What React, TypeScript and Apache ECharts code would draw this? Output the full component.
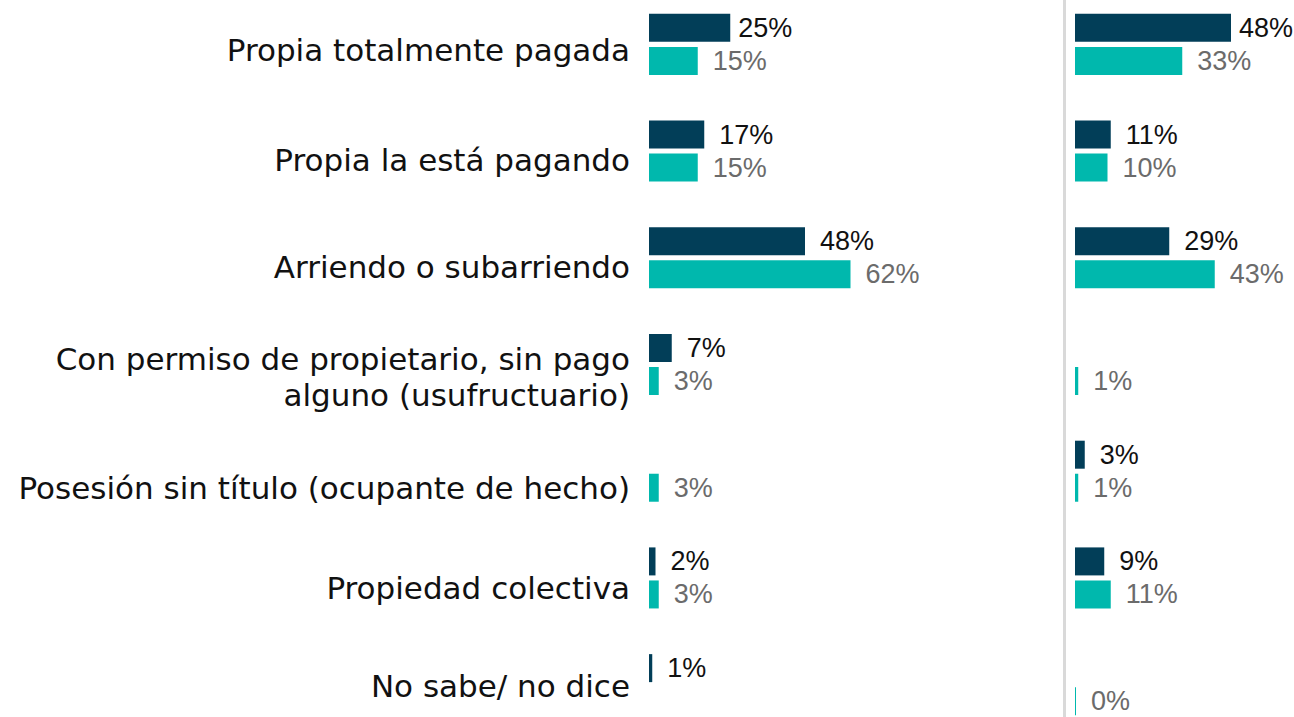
import React, { useEffect, useRef } from "react";
import * as echarts from "echarts";

const categories = [
  "Propia totalmente pagada",
  "Propia la está pagando",
  "Arriendo o subarriendo",
  "Con permiso de propietario, sin pago\nalguno (usufructuario)",
  "Posesión sin título (ocupante de hecho)",
  "Propiedad colectiva",
  "No sabe/ no dice",
];

const leftDark: (number | null)[] = [25, 17, 48, 7, null, 2, 1];
const leftTeal: (number | null)[] = [15, 15, 62, 3, 3, 3, null];
const rightDark: (number | null)[] = [48, 11, 29, null, 3, 9, null];
const rightTeal: (number | null)[] = [33, 10, 43, 1, 1, 11, 0];

// layout only: downward nudge (px) of each category label, as in the original slide
const labelNudge = [6, 8.5, 9.5, 12, 16.5, 10.5, 1];

const DARK = "#023e58";
const TEAL = "#00b8ad";
const FONT = "DejaVu Sans";
const NUM_FONT = "Liberation Sans";

function toData(values: (number | null)[], closeFirst: boolean) {
  return values.map((v, i) =>
    v === null
      ? "-"
      : closeFirst && i === 0
      ? { value: v, label: { distance: 8 } }
      : v
  );
}

export default function App() {
  const ref = useRef<HTMLDivElement>(null);
  useEffect(() => {
    if (!ref.current) return;
    const chart = echarts.init(ref.current, undefined, { renderer: "svg" });
    const labelBase = (color: string) => ({
      show: true,
      position: "right" as const,
      distance: 15,
      formatter: "{c}%",
      color,
      fontFamily: NUM_FONT,
      fontSize: 27,
    });
    const bar = (
      name: string,
      values: (number | null)[],
      idx: number,
      color: string,
      labelColor: string,
      closeFirst: boolean
    ) => ({
      type: "bar",
      name,
      xAxisIndex: idx,
      yAxisIndex: idx,
      data: toData(values, closeFirst),
      barWidth: 28,
      barGap: "18%",
      barMinHeight: 1,
      itemStyle: { color },
      label: labelBase(labelColor),
    });
    // 3.25 px per percentage point in both panels
    const grids = [
      { left: 649, top: 0, width: 325, height: 747 },
      { left: 1075, top: 0, width: 219, height: 747 },
    ];
    const maxes = [100, 219 / 3.25];
    const rich: Record<string, any> = {
      t: {
        fontFamily: FONT,
        fontSize: 31,
        lineHeight: 36,
        color: "#111111",
        align: "right",
      },
    };
    labelNudge.forEach((d, i) => {
      rich["g" + i] = { fontSize: 1, height: 2 * d, lineHeight: 2 * d };
    });
    chart.setOption({
      animation: false,
      backgroundColor: "#ffffff",
      grid: grids,
      xAxis: [0, 1].map((i) => ({
        type: "value",
        gridIndex: i,
        min: 0,
        max: maxes[i],
        show: false,
        splitLine: { show: false },
      })),
      yAxis: [0, 1].map((i) => ({
        type: "category",
        gridIndex: i,
        data: categories,
        inverse: true,
        axisLine: { show: false },
        axisTick: { show: false },
        axisLabel:
          i === 0
            ? {
                show: true,
                margin: 19,
                align: "right",
                verticalAlign: "middle",
                formatter: (value: string, index: number) =>
                  `{g${index}| }\n` +
                  value
                    .split("\n")
                    .map((l) => `{t|${l}}`)
                    .join("\n"),
                rich,
              }
            : { show: false },
      })),
      series: [
        bar("Dark L", leftDark, 0, DARK, "#111111", true),
        bar("Teal L", leftTeal, 0, TEAL, "#6b6b6b", false),
        bar("Dark R", rightDark, 1, DARK, "#111111", true),
        bar("Teal R", rightTeal, 1, TEAL, "#6b6b6b", false),
      ],
      graphic: [
        {
          type: "rect",
          shape: { x: 1063, y: 0, width: 3, height: 747 },
          style: { fill: "#d9d9d9" },
          silent: true,
        },
      ],
    });
    return () => chart.dispose();
  }, []);
  return (
    <div
      ref={ref}
      style={{ position: "fixed", left: 0, top: -9, width: 1294, height: 747 }}
    />
  );
}
